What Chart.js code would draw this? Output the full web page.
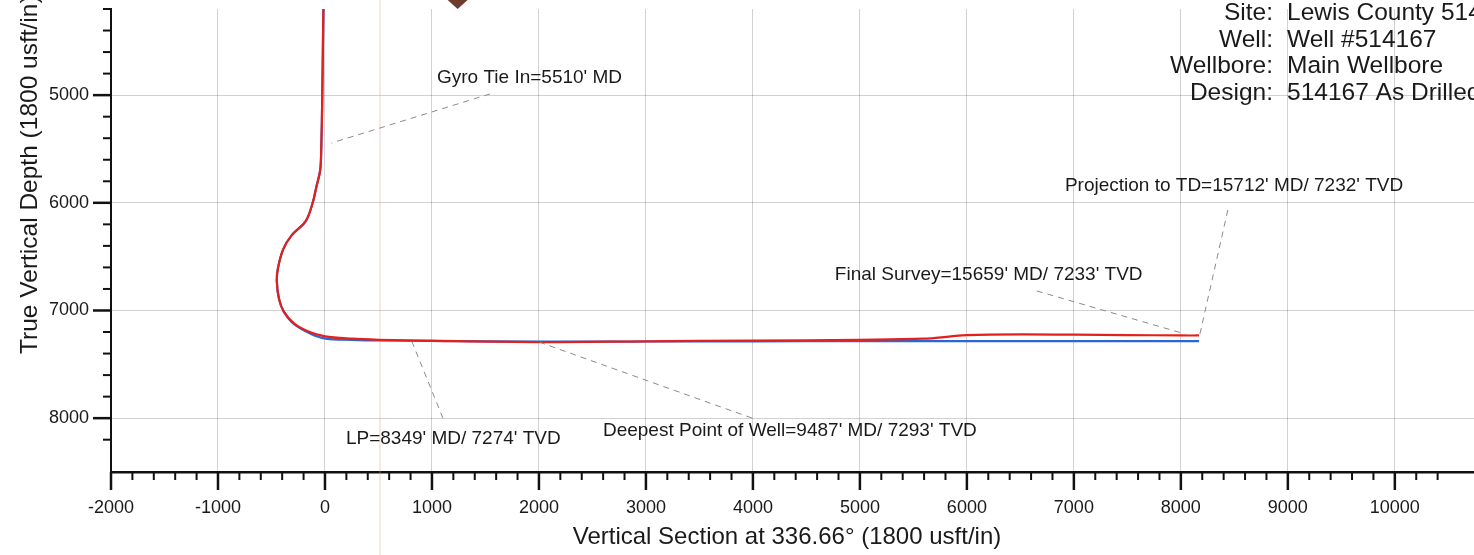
<!DOCTYPE html>
<html>
<head>
<meta charset="utf-8">
<script src="https://cdn.jsdelivr.net/npm/chart.js@4.4.1/dist/chart.umd.min.js"></script>
<style>
  html, body { margin: 0; padding: 0; background: #fff; }
  #wrap { width: 1474px; height: 555px; }
</style>
</head>
<body>
<div id="wrap"><canvas id="wellPlot" width="1474" height="555"></canvas></div>
<script>
// survey as drilled (red) and plan (blue): vertical section / TVD, usft
const actualVS  = [-15, -25, -35, -45, -80, -115, -180, -310, -390, -440, -450, -430, -385, -290, -155, 0, 250, 500, 1020, 2000, 3000, 4000, 5000, 5600, 5850, 6000, 6500, 7000, 7500, 8000, 8170];
const actualTVD = [4200, 5000, 5510, 5700, 5850, 6000, 6170, 6300, 6430, 6610, 6730, 6890, 7010, 7120, 7195, 7240, 7262, 7272, 7282, 7293, 7286, 7280, 7272, 7262, 7240, 7228, 7222, 7225, 7228, 7232, 7232];
const planVS  = [-15, -25, -35, -45, -80, -115, -180, -310, -390, -440, -450, -430, -385, -285, -135, 10, 250, 500, 1020, 2000, 3000, 4000, 5000, 6000, 7000, 8000, 8170];
const planTVD = [4200, 5000, 5510, 5700, 5850, 6000, 6170, 6300, 6430, 6610, 6730, 6890, 7010, 7130, 7215, 7262, 7272, 7278, 7283, 7290, 7288, 7286, 7284, 7284, 7284, 7284, 7284];

const xTickLabels = [-2000, -1000, 0, 1000, 2000, 3000, 4000, 5000, 6000, 7000, 8000, 9000, 10000];
const yTickLabels = [5000, 6000, 7000, 8000];

// annotation text and leader lines, in chart units
const noteText  = ["Gyro Tie In=5510' MD", "Projection to TD=15712' MD/ 7232' TVD", "Final Survey=15659' MD/ 7233' TVD", "LP=8349' MD/ 7274' TVD", "Deepest Point of Well=9487' MD/ 7293' TVD"];
const noteAt    = [[1047, 4841], [6916, 5844], [4766, 6665], [196, 8194], [2598, 8119]];
const leaderFrom = [[1542, 4989], [8439, 6067], [6654, 6819], [1103, 8000], [3991, 7999]];
const leaderTo   = [[60, 5445], [8175, 7232], [8040, 7218], [813, 7290], [2009, 7296]];

const infoLabels = ["Site:", "Well:", "Wellbore:", "Design:"];
const infoValues = ["Lewis County 514167", "Well #514167", "Main Wellbore", "514167 As Drilled"];

const FONT = '"Liberation Sans", Arial, sans-serif';

function pts(xs, ys) { return xs.map((x, i) => ({ x: x, y: ys[i] })); }

function gridColor(c) {
  const v = c.tick ? c.tick.value : 1;
  if (v % 1000 === 0) return 'rgba(0,0,0,0.18)';
  if (v % 500 === 0) return 'rgba(0,0,0,0.07)';
  return 'rgba(0,0,0,0)';
}

const decor = {
  id: 'decor',
  beforeDatasetsDraw(chart) {
    const ctx = chart.ctx, xs = chart.scales.x;
    // faint scan streak
    const px = xs.getPixelForValue(514);
    ctx.save();
    ctx.strokeStyle = 'rgba(225,150,150,0.3)';
    ctx.lineWidth = 1.5;
    ctx.beginPath(); ctx.moveTo(px, 0); ctx.lineTo(px, chart.height); ctx.stroke();
    ctx.restore();
  },
  afterDatasetsDraw(chart) {
    const ctx = chart.ctx, xs = chart.scales.x, ys = chart.scales.y;
    ctx.save();
    ctx.strokeStyle = '#8a8a8a';
    ctx.lineWidth = 1;
    ctx.setLineDash([6, 5]);
    leaderFrom.forEach((f, i) => {
      const t = leaderTo[i];
      ctx.beginPath();
      ctx.moveTo(xs.getPixelForValue(f[0]), ys.getPixelForValue(f[1]));
      ctx.lineTo(xs.getPixelForValue(t[0]), ys.getPixelForValue(t[1]));
      ctx.stroke();
    });
    ctx.setLineDash([]);
    ctx.fillStyle = '#1a1a1a';
    ctx.font = '19px ' + FONT;
    ctx.textBaseline = 'middle';
    ctx.textAlign = 'left';
    noteText.forEach((s, i) => {
      ctx.fillText(s, xs.getPixelForValue(noteAt[i][0]), ys.getPixelForValue(noteAt[i][1]));
    });
    ctx.restore();
  },
  afterDraw(chart) {
    const ctx = chart.ctx, xs = chart.scales.x, ys = chart.scales.y, a = chart.chartArea;
    ctx.save();
    ctx.strokeStyle = '#111';
    // x ticks
    xs.ticks.forEach(t => {
      if (t.value % 200 !== 0) return;
      const major = t.value % 1000 === 0;
      const p = xs.getPixelForValue(t.value);
      ctx.lineWidth = major ? 2.5 : 2;
      ctx.beginPath(); ctx.moveTo(p, a.bottom); ctx.lineTo(p, a.bottom + (major ? 18 : 8)); ctx.stroke();
    });
    // y ticks
    ys.ticks.forEach(t => {
      if (t.value % 200 !== 0) return;
      const major = t.value % 1000 === 0;
      const p = ys.getPixelForValue(t.value);
      ctx.lineWidth = major ? 2.5 : 2;
      ctx.beginPath(); ctx.moveTo(a.left - (major ? 18 : 8), p); ctx.lineTo(a.left, p); ctx.stroke();
    });

    // axis titles
    ctx.fillStyle = '#1a1a1a';
    ctx.font = '24px ' + FONT;
    ctx.textAlign = 'center';
    ctx.textBaseline = 'middle';
    ctx.fillText('Vertical Section at 336.66\u00b0 (1800 usft/in)', 787, 537);
    ctx.save();
    ctx.translate(37, 354);
    ctx.rotate(-Math.PI / 2);
    ctx.font = '24.5px ' + FONT;
    ctx.textAlign = 'left';
    ctx.textBaseline = 'alphabetic';
    ctx.fillText('True Vertical Depth (1800 usft/in)', 0, 0);
    ctx.restore();

    // well info block
    ctx.font = '24.5px ' + FONT;
    ctx.textBaseline = 'middle';
    infoLabels.forEach((s, i) => {
      const y = 13 + i * 26.8;
      ctx.textAlign = 'right';
      ctx.fillText(s, 1273, y);
      ctx.textAlign = 'left';
      ctx.fillText(infoValues[i], 1287, y);
    });

    // north arrow tip peeking in from above
    const ax = xs.getPixelForValue(1240);
    ctx.fillStyle = '#6e3b2c';
    ctx.beginPath();
    ctx.moveTo(ax - 10, 0); ctx.lineTo(ax + 10, 0); ctx.lineTo(ax, 9);
    ctx.closePath(); ctx.fill();
    ctx.restore();
  }
};

const ctx = document.getElementById('wellPlot').getContext('2d');
new Chart(ctx, {
  type: 'scatter',
  data: {
    datasets: [
      {
        label: 'As Drilled',
        data: pts(actualVS, actualTVD),
        showLine: true,
        borderColor: '#e3201b',
        borderWidth: 2.2,
        pointRadius: 0,
        tension: 0.35,
        order: 0
      },
      {
        label: 'Plan',
        data: pts(planVS, planTVD),
        showLine: true,
        borderColor: '#2b66d6',
        borderWidth: 2.2,
        pointRadius: 0,
        tension: 0.35,
        order: 1
      }
    ]
  },
  plugins: [decor],
  options: {
    responsive: false,
    animation: false,
    layout: { padding: { top: 9, right: 0, left: 0, bottom: 0 } },
    plugins: {
      legend: { display: false },
      tooltip: { enabled: false }
    },
    scales: {
      x: {
        type: 'linear',
        min: -2000,
        max: 10740,
        afterFit: s => { s.height = 83; s.paddingLeft = 0; s.paddingRight = 0; },
        border: { color: '#111', width: 2.5 },
        grid: { color: gridColor, drawTicks: false },
        ticks: {
          stepSize: 200,
          autoSkip: false,
          maxRotation: 0,
          padding: 25,
          color: '#1a1a1a',
          font: { family: FONT, size: 18 },
          callback: v => xTickLabels.includes(v) ? String(v) : ''
        }
      },
      y: {
        type: 'linear',
        reverse: true,
        min: 4200,
        max: 8500,
        afterFit: s => { s.width = 111; s.paddingTop = 0; s.paddingBottom = 0; },
        border: { color: '#111', width: 2 },
        grid: { color: gridColor, drawTicks: false },
        ticks: {
          stepSize: 200,
          autoSkip: false,
          padding: 22,
          color: '#1a1a1a',
          font: { family: FONT, size: 18 },
          callback: v => yTickLabels.includes(v) ? String(v) : ''
        }
      }
    }
  }
});
</script>
</body>
</html>
